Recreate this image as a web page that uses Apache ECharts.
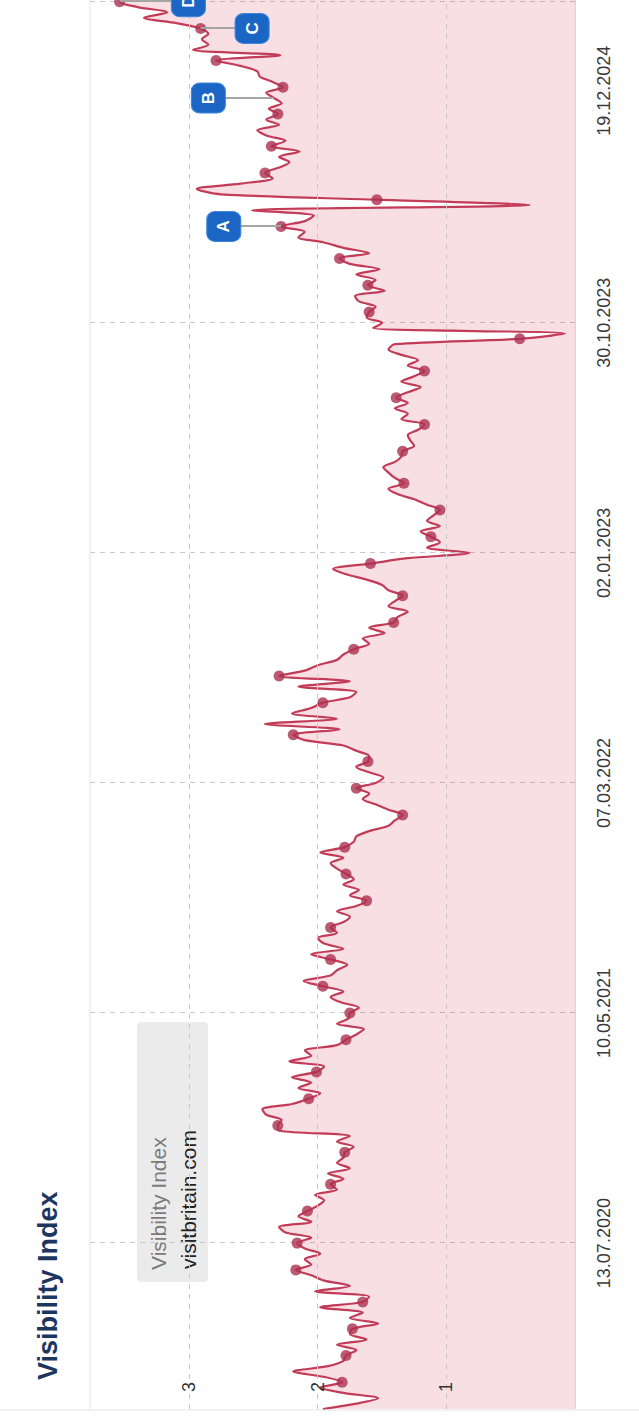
<!DOCTYPE html>
<html>
<head>
<meta charset="utf-8">
<script src="https://cdn.jsdelivr.net/npm/echarts@6/dist/echarts.min.js"></script>
<style>
  html, body { margin: 0; padding: 0; background: #fff; }
  #page { position: absolute; left: 0; top: 0; width: 639px; height: 1420px; overflow: hidden; }
  /* chart is laid out landscape and turned a quarter left */
  #chart {
    position: absolute; left: 0; top: 0;
    width: 1440px; height: 639px;
    transform-origin: 0 0;
    transform: translate(0px, 1420px) rotate(-90deg);
  }
</style>
</head>
<body>
<div id="page"><div id="chart"></div></div>
<script>
// weekly visibility index, oldest first
const visibility = [
  1.96, 1.70, 1.53, 1.80, 1.98, 1.81, 1.95, 2.19, 1.92, 1.80,
  1.78, 1.70, 1.85, 1.62, 1.75, 1.73, 1.53, 1.75, 1.65, 1.98,
  1.65, 1.60, 2.02, 1.75, 1.95, 2.05, 2.17, 2.05, 2.10, 1.98,
  2.10, 2.16, 2.05, 2.25, 2.30, 2.05, 2.15, 2.08, 2.00, 1.95,
  2.02, 1.85, 1.90, 1.80, 1.92, 1.75, 1.85, 1.80, 1.79, 1.72,
  1.85, 1.75, 2.30, 2.31, 2.28, 2.40, 2.43, 2.20, 2.07, 1.98,
  2.15, 2.05, 2.20, 2.01, 1.95, 2.22, 2.05, 2.10, 1.85, 1.78,
  1.70, 1.64, 1.85, 1.76, 1.75, 1.68, 1.82, 1.90, 1.80, 1.96,
  2.11, 1.90, 1.85, 1.77, 1.90, 2.05, 1.80, 1.95, 2.00, 1.85,
  1.90, 1.80, 1.75, 1.85, 1.70, 1.62, 1.75, 1.68, 1.80, 1.72,
  1.78, 1.85, 1.90, 1.80, 1.98, 1.79, 1.72, 1.70, 1.60, 1.45,
  1.40, 1.34, 1.45, 1.55, 1.65, 1.60, 1.70, 1.55, 1.49, 1.60,
  1.70, 1.61, 1.60, 1.70, 1.80, 2.10, 2.19, 1.83, 2.41, 1.85,
  2.20, 2.05, 1.96, 1.75, 1.70, 2.15, 1.75, 2.30, 2.10, 2.00,
  1.85, 1.80, 1.72, 1.60, 1.65, 1.48, 1.60, 1.41, 1.38, 1.30,
  1.45, 1.40, 1.34, 1.45, 1.50, 1.62, 1.78, 1.88, 1.59, 1.30,
  0.82, 1.15, 1.05, 1.12, 1.20, 1.05, 1.15, 1.10, 1.05, 1.15,
  1.25, 1.38, 1.45, 1.33, 1.40, 1.45, 1.49, 1.40, 1.35, 1.34,
  1.25, 1.28, 1.30, 1.22, 1.17, 1.35, 1.30, 1.40, 1.30, 1.39,
  1.30, 1.20, 1.35, 1.25, 1.17, 1.30, 1.22, 1.35, 1.45, 1.40,
  0.43, 0.08, 1.57, 1.50, 1.62, 1.60, 1.55, 1.68, 1.71, 1.48,
  1.61, 1.55, 1.70, 1.52, 1.75, 1.83, 1.60, 1.80, 1.95, 2.15,
  2.10, 2.285, 2.10, 2.03, 2.51, 0.35, 1.54, 2.75, 2.94, 2.60,
  2.35, 2.41, 2.30, 2.22, 2.30, 2.14, 2.36, 2.25, 2.40, 2.47,
  2.30, 2.40, 2.31, 2.38, 2.28, 2.34, 2.40, 2.27, 2.35, 2.45,
  2.47, 2.60, 2.79, 2.29, 2.97, 2.85, 2.90, 2.85, 2.91, 3.10,
  3.35, 3.17, 3.40, 3.54, 3.50, 3.55
];
const weeks = visibility.map((_, i) => String(i));

// weeks that carry a marker dot
const dotWeeks = [5, 10, 15, 20, 26, 31, 37, 42, 48, 53, 58, 63, 69, 74, 79, 84, 90, 95,
  100, 105, 111, 116, 121, 126, 132, 137, 142, 147, 152, 158, 163, 168, 173, 179, 184,
  189, 194, 200, 205, 210, 215, 221, 226, 231, 236, 242, 247, 252, 258, 263];

// date ticks on the time axis
const tickWeeks = [31, 74, 117, 160, 203, 263];
const tickLabels = ['13.07.2020', '10.05.2021', '07.03.2022', '02.01.2023', '30.10.2023', '19.12.2024'];

// event notes: week, value at the line, value of the badge
const noteNames = ['A', 'B', 'C', 'D'];
const noteWeeks = [221, 245, 258, 263];
const notePoint = [2.285, 2.34, 2.91, 3.54];
const noteBadge = [2.73, 2.85, 2.51, 3.005];

const FONT = "'Liberation Sans', Arial, sans-serif";
const lineColor = '#c23b57';
const dotColor = '#ad3150';
const areaColor = 'rgba(214, 56, 90, 0.23)';
const gridColor = '#c8c8c8';

const chart = echarts.init(document.getElementById('chart'), null, { renderer: 'svg' });

chart.setOption({
  animation: false,
  textStyle: { fontFamily: FONT },
  grid: { left: 11, right: 11, top: 90, bottom: 64, containLabel: false },
  xAxis: {
    type: 'category',
    data: weeks,
    boundaryGap: false,
    axisLine: { show: true, lineStyle: { color: '#d6d6d6' } },
    axisTick: { show: false },
    axisLabel: {
      interval: (i) => tickWeeks.includes(i),
      margin: 20,
      fontSize: 18,
      color: '#3a3a3a',
      formatter: (v) => {
        const k = tickWeeks.indexOf(Number(v));
        if (k < 0) return '';
        // last date is pulled back inside the plot
        return k === tickWeeks.length - 1 ? '{last|' + tickLabels[k] + '}' : tickLabels[k];
      },
      rich: { last: { fontSize: 18, color: '#3a3a3a', padding: [0, 178, 0, 0] } }
    },
    splitLine: {
      show: true,
      interval: (i) => tickWeeks.includes(i),
      lineStyle: { color: gridColor, type: [5, 5], width: 1 }
    }
  },
  yAxis: {
    type: 'value',
    min: 0,
    max: 3.77,
    interval: 1,
    z: 3,
    axisLine: { show: false },
    axisTick: { show: false },
    axisLabel: {
      inside: true,
      margin: 17,
      fontSize: 18,
      color: '#333',
      formatter: (v) => (v === 1 || v === 2 || v === 3 ? String(v) : '')
    },
    splitLine: {
      show: true,
      showMinLine: false,
      showMaxLine: false,
      lineStyle: { color: gridColor, type: [5, 5], width: 1 }
    }
  },
  series: [
    {
      name: 'visitbritain.com',
      type: 'line',
      data: visibility,
      smooth: 0.3,
      showSymbol: false,
      lineStyle: { color: lineColor, width: 2.2 },
      areaStyle: { color: areaColor },
      z: 2,
      markLine: {
        silent: true,
        symbol: ['none', 'none'],
        label: { show: false },
        lineStyle: { color: '#a5a5a5', width: 2, type: 'solid' },
        data: noteWeeks.map((w, k) => [
          { coord: [String(w), notePoint[k]] },
          { coord: [String(w), noteBadge[k]] }
        ])
      }
    },
    {
      type: 'scatter',
      data: dotWeeks.map((w) => [String(w), visibility[w]]),
      symbol: 'circle',
      symbolSize: 11,
      itemStyle: { color: dotColor },
      z: 4,
      markPoint: {
        silent: true,
        symbol: 'roundRect',
        symbolSize: [30, 34],
        itemStyle: { color: '#1b66c4', borderColor: '#3f86dc', borderWidth: 1 },
        label: {
          show: true,
          position: 'inside',
          color: '#fff',
          fontWeight: 'bold',
          fontSize: 17,
          formatter: (p) => p.name
        },
        data: noteWeeks.map((w, k) => ({ name: noteNames[k], coord: [String(w), noteBadge[k]] }))
      }
    }
  ],
  graphic: [
    { type: 'line', z: 10, shape: { x1: 10, y1: 0, x2: 10, y2: 639 }, style: { stroke: '#e3e3e3', lineWidth: 1 } },
    { type: 'line', z: 10, shape: { x1: 10, y1: 90, x2: 1440, y2: 90 }, style: { stroke: '#e3e3e3', lineWidth: 1 } },
    {
      type: 'text', z: 10, left: 40, top: 34,
      style: { text: 'Visibility Index', font: 'bold 27px ' + FONT, fill: '#1c365f' }
    },
    {
      type: 'group', left: 138, top: 137, z: 20,
      children: [
        { type: 'rect', shape: { x: 0, y: 0, width: 260, height: 71, r: 4 }, style: { fill: 'rgba(226,226,226,0.7)' } },
        { type: 'text', x: 12, y: 21, style: { text: 'Visibility Index', font: '21px ' + FONT, fill: '#7a7a7a', verticalAlign: 'middle' } },
        { type: 'text', x: 13, y: 51, style: { text: 'visitbritain.com', font: '21px ' + FONT, fill: '#222', verticalAlign: 'middle' } }
      ]
    }
  ]
});
</script>
</body>
</html>
